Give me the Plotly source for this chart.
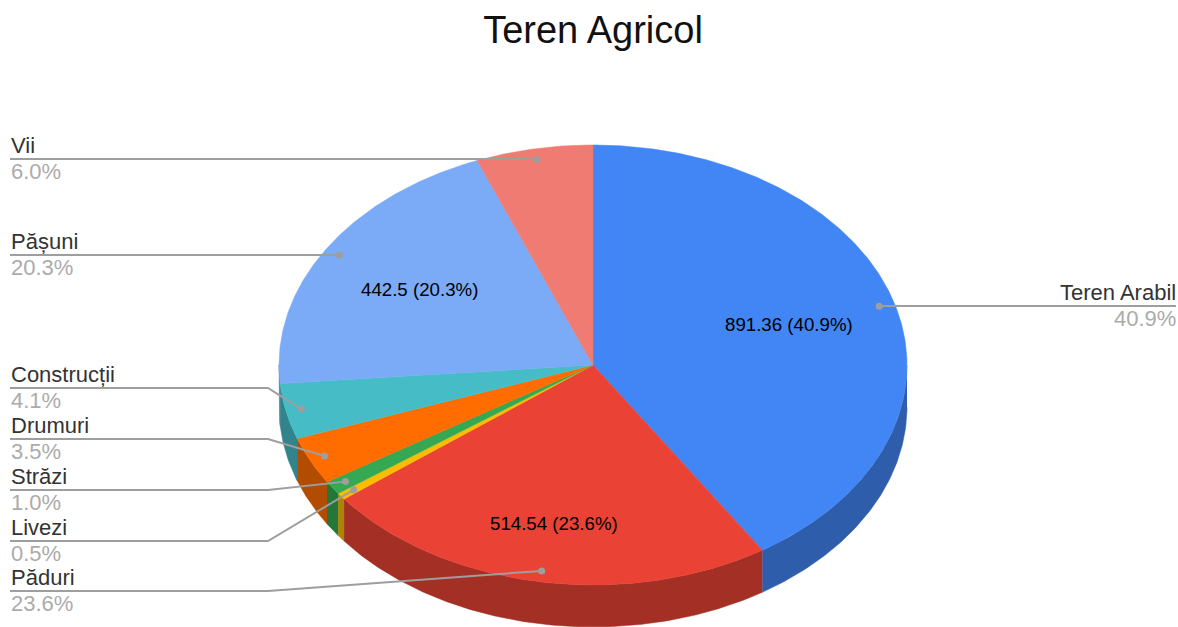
import math
import numpy as np
import plotly.graph_objects as go

TITLE = "Teren Agricol"
categories = ["Teren Arabil", "Păduri", "Livezi", "Străzi", "Drumuri", "Construcții", "Pășuni", "Vii"]
values = [891.36, 514.54, 11, 22, 76, 89, 442.5, 131]
percent_labels = ["40.9%", "23.6%", "0.5%", "1.0%", "3.5%", "4.1%", "20.3%", "6.0%"]
inner_labels = ["891.36 (40.9%)", "514.54 (23.6%)", "", "", "", "", "442.5 (20.3%)", ""]

top_colors = ["#4285F4", "#EA4335", "#FBBC04", "#34A853", "#FF6D01", "#46BDC6", "#7BAAF7", "#F07B72"]
side_colors = ["#2E5DAB", "#A32F25", "#B08403", "#24763A", "#B24C01", "#31848B", "#5677AD", "#A85650"]

# Pie geometry, in pixels of the page
CX, CY, RX, RY, DEPTH = 593, 365, 314, 220, 42
ANCHOR_R = 0.95
inner_r = [0.65, 0.73, 0, 0, 0, 0, 0.65, 0]
leader_y = [306, 591, 541, 490, 439, 388, 255, 159]
ELBOW_X = 268
LEFT_X, RIGHT_X = 10, 1176


def pt(deg, r=1.0):
    a = math.radians(deg)
    return CX + RX * r * math.sin(a), CY - RY * r * math.cos(a)


total = sum(values)
edges = [0.0]
for v in values:
    edges.append(edges[-1] + v / total * 360)

fig = go.Figure()

# Side wall: only the part of each slice on the front half of the pie
for i in range(len(values)):
    lo, hi = max(edges[i], 90), min(edges[i + 1], 270)
    if hi <= lo:
        continue
    angles = np.linspace(lo, hi, max(3, int((hi - lo) * 2)))
    xs = [pt(a)[0] for a in angles]
    ys = [pt(a)[1] for a in angles]
    fig.add_trace(go.Scatter(
        x=xs + xs[::-1], y=ys + [y + DEPTH for y in ys[::-1]],
        mode="lines", fill="toself", fillcolor=side_colors[i],
        line=dict(width=0.5, color=side_colors[i]), hoverinfo="skip", showlegend=False))

# Top face
for i in range(len(values)):
    angles = np.linspace(edges[i], edges[i + 1], max(3, int((edges[i + 1] - edges[i]) * 2)))
    xs = [CX] + [pt(a)[0] for a in angles] + [CX]
    ys = [CY] + [pt(a)[1] for a in angles] + [CY]
    fig.add_trace(go.Scatter(
        x=xs, y=ys, mode="lines", fill="toself", fillcolor=top_colors[i],
        line=dict(width=0.5, color=top_colors[i]),
        name=categories[i], hoverinfo="name", showlegend=False))

# Leader lines, dots, outer labels
annotations = []
for i, name in enumerate(categories):
    mid = (edges[i] + edges[i + 1]) / 2
    ax, ay = pt(mid, ANCHOR_R)
    y = leader_y[i]
    right = mid < 180
    if right:
        lx, ly = [ax, RIGHT_X], [y, y]
    elif abs(ay - y) < 3:
        lx, ly = [LEFT_X, ax], [y, y]
    else:
        lx, ly = [LEFT_X, ELBOW_X, ax], [y, y, ay]
    fig.add_trace(go.Scatter(x=lx, y=ly, mode="lines", line=dict(color="#9E9E9E", width=2),
                             hoverinfo="skip", showlegend=False))
    fig.add_trace(go.Scatter(x=[ax], y=[ay], mode="markers", marker=dict(color="#9E9E9E", size=7),
                             hoverinfo="skip", showlegend=False))
    tx = RIGHT_X if right else LEFT_X + 1
    anchor = "right" if right else "left"
    annotations.append(dict(x=tx, y=y - 14, text=name, showarrow=False, xanchor=anchor, yanchor="middle",
                            xref="x", yref="y", borderpad=0, borderwidth=0,
                            font=dict(family="Liberation Sans", size=22, color="#333333")))
    annotations.append(dict(x=tx, y=y + 12, text=percent_labels[i], showarrow=False, xanchor=anchor,
                            yanchor="middle", xref="x", yref="y", borderpad=0, borderwidth=0,
                            font=dict(family="Liberation Sans", size=22, color="#ABABAB")))
    if inner_labels[i]:
        ix, iy = pt(mid, inner_r[i])
        annotations.append(dict(x=ix, y=iy, text=inner_labels[i], showarrow=False, xanchor="center",
                                yanchor="middle", xref="x", yref="y",
                                font=dict(family="Liberation Sans", size=18.7, color="#000000")))

fig.update_layout(
    width=1178, height=627, autosize=False,
    margin=dict(l=0, r=0, t=0, b=0),
    paper_bgcolor="#FFFFFF", plot_bgcolor="#FFFFFF",
    showlegend=False,
    title=dict(text=TITLE, x=593 / 1178, xanchor="center", y=1 - 30 / 627, yanchor="middle",
               font=dict(family="Liberation Sans", size=38, color="#111111")),
    xaxis=dict(range=[0, 1178], visible=False, fixedrange=True),
    yaxis=dict(range=[627, 0], visible=False, fixedrange=True),
    annotations=annotations,
)

fig.write_html("out.html", post_script="document.body.style.margin='0';document.body.style.overflow='hidden';",
               config=dict(displayModeBar=False))
